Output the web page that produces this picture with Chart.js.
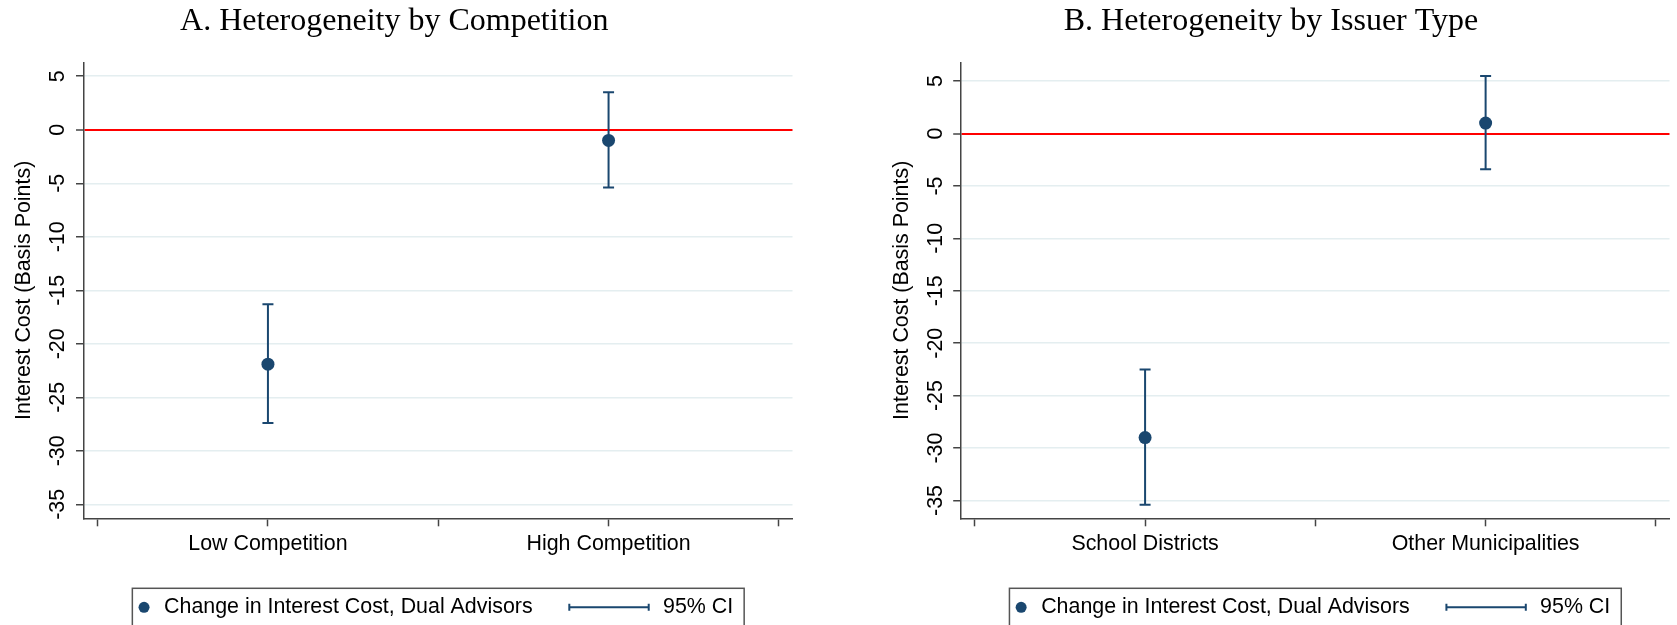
<!DOCTYPE html>
<html>
<head>
<meta charset="utf-8">
<script src="https://cdn.jsdelivr.net/npm/chart.js@4.4.1/dist/chart.umd.min.js"></script>
<style>
  html, body { margin: 0; padding: 0; background: #fff; overflow: hidden; }
  body { width: 1677px; height: 625px; position: relative; }
  canvas { position: absolute; top: 0; }
  #panelA { left: -8px; }
  #panelB { left: 868px; }
</style>
</head>
<body>
<canvas id="panelA" width="808" height="625"></canvas>
<canvas id="panelB" width="809" height="625"></canvas>
<script>
// panel A - competition
const titleA = "A. Heterogeneity by Competition";
const catsA = ["Low Competition", "High Competition"];
const estA = [-21.9, -1.0];
const loA = [-27.4, -5.4];
const hiA = [-16.3, 3.5];

// panel B - issuer type
const titleB = "B. Heterogeneity by Issuer Type";
const catsB = ["School Districts", "Other Municipalities"];
const estB = [-29.0, 1.0];
const loB = [-35.4, -3.4];
const hiB = [-22.5, 5.5];

const yTicks = [5, 0, -5, -10, -15, -20, -25, -30, -35];
const xTicks = [0.5, 1, 1.5, 2, 2.5];
const yTitle = "Interest Cost (Basis Points)";
const legendLabels = ["Change in Interest Cost, Dual Advisors", "95% CI"];

const navy = '#1a476f';
const axisCol = '#444';
const gridCol = '#e4eef0';
const sans = '"Liberation Sans", Arial, sans-serif';
const txtSize = 21.4;

Chart.defaults.font.family = sans;

// stata style legend box under the plot
const ciLegend = {
  id: 'ciLegend',
  afterDraw(chart) {
    const ctx = chart.ctx;
    const area = chart.chartArea;
    ctx.save();
    ctx.font = txtSize + 'px ' + sans;
    const w1 = ctx.measureText(legendLabels[0]).width;
    const w2 = ctx.measureText(legendLabels[1]).width;
    const boxW = 31.7 + w1 + 36.7 + 79.4 + 14.3 + w2 + 11;
    const left = (area.left + area.right) / 2 - boxW / 2;
    const top = area.bottom + 70;
    const mid = top + 19;
    ctx.strokeStyle = '#555';
    ctx.lineWidth = 1.5;
    ctx.strokeRect(left, top, boxW, 60);
    ctx.fillStyle = navy;
    ctx.beginPath();
    ctx.arc(left + 11.7, mid, 5.5, 0, Math.PI * 2);
    ctx.fill();
    ctx.fillStyle = '#000';
    ctx.textAlign = 'left';
    ctx.textBaseline = 'middle';
    ctx.fillText(legendLabels[0], left + 31.7, mid);
    const x0 = left + 31.7 + w1 + 36.7;
    const x1 = x0 + 79.4;
    ctx.strokeStyle = navy;
    ctx.lineWidth = 2;
    ctx.beginPath();
    ctx.moveTo(x0, mid); ctx.lineTo(x1, mid);
    ctx.moveTo(x0, mid - 3.5); ctx.lineTo(x0, mid + 3.5);
    ctx.moveTo(x1, mid - 3.5); ctx.lineTo(x1, mid + 3.5);
    ctx.stroke();
    ctx.fillStyle = '#000';
    ctx.fillText(legendLabels[1], x1 + 14.3, mid);
    ctx.restore();
  }
};

function makeChart(id, title, cats, est, lo, hi, yMin, yMax, lay) {
  const datasets = [{
    label: legendLabels[0],
    data: cats.map((c, i) => ({x: i + 1, y: est[i]})),
    backgroundColor: navy,
    borderColor: navy,
    pointRadius: 6.5,
    pointBorderWidth: 0
  }];
  // one CI segment per category
  cats.forEach((c, i) => {
    datasets.push({
      type: 'line',
      label: legendLabels[1],
      data: [{x: i + 1, y: lo[i]}, {x: i + 1, y: hi[i]}],
      showLine: true,
      borderColor: navy,
      borderWidth: 2,
      pointStyle: 'line',
      pointRadius: 5.5,
      pointBorderWidth: 2,
      pointBorderColor: navy
    });
  });

  return new Chart(document.getElementById(id), {
    type: 'scatter',
    data: { datasets: datasets },
    plugins: [ciLegend],
    options: {
      responsive: false,
      animation: false,
      events: [],
      layout: { padding: { left: 0, right: lay.pr, top: 0, bottom: 0 } },
      plugins: {
        legend: { display: false },
        tooltip: { enabled: false },
        title: {
          display: true,
          text: title,
          color: '#000',
          font: { family: '"Liberation Serif", "Times New Roman", serif', size: 32, weight: 'normal' },
          padding: { top: 2, bottom: 21.9 }
        }
      },
      scales: {
        x: {
          type: 'linear',
          min: 0.46,
          max: 2.54,
          afterBuildTicks: s => { s.ticks = xTicks.map(v => ({value: v})); },
          afterFit: s => { s.height = 106.7; },
          ticks: {
            autoSkip: false,
            maxRotation: 0,
            padding: 4.5,
            color: '#000',
            font: { size: txtSize },
            callback: v => Number.isInteger(v) ? cats[v - 1] : ''
          },
          grid: { drawOnChartArea: false, drawTicks: true, tickLength: 8, tickColor: axisCol, tickWidth: 1.5 },
          border: { display: true, color: axisCol, width: 1.5 }
        },
        y: {
          type: 'linear',
          min: yMin,
          max: yMax,
          afterBuildTicks: s => { s.ticks = yTicks.map(v => ({value: v})); },
          afterFit: s => { s.width = lay.yw; },
          ticks: {
            autoSkip: false,
            minRotation: 90,
            maxRotation: 90,
            crossAlign: 'center',
            padding: 2,
            color: '#000',
            font: { size: txtSize },
            callback: v => String(v)
          },
          grid: {
            color: c => (c.tick && c.tick.value === 0) ? '#ff0000' : gridCol,
            lineWidth: c => (c.tick && c.tick.value === 0) ? 2 : 1.5,
            tickLength: 8,
            tickColor: axisCol,
            tickWidth: 1.5
          },
          border: { display: true, color: axisCol, width: 1.5 },
          title: {
            display: true,
            text: yTitle,
            color: '#000',
            font: { size: txtSize },
            padding: { top: lay.tp, bottom: 0 }
          }
        }
      }
    }
  });
}

makeChart('panelA', titleA, catsA, estA, loA, hiA, -36.3, 6.3, { yw: 92, pr: 3.5, tp: 19.4 });
makeChart('panelB', titleB, catsB, estB, loB, hiB, -36.7, 6.8, { yw: 93.2, pr: 3, tp: 21 });
</script>
</body>
</html>
